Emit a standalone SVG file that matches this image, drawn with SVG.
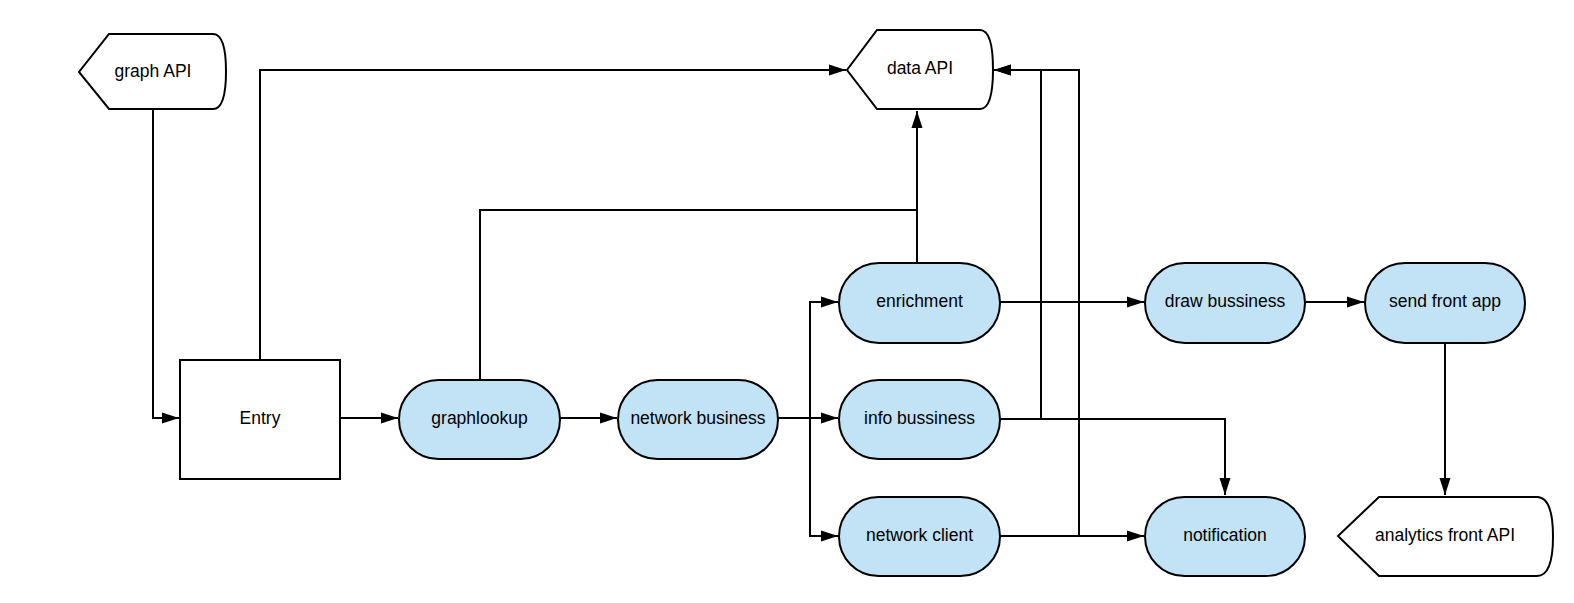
<svg xmlns="http://www.w3.org/2000/svg" width="1574" height="603" viewBox="0 0 1574 603">
<defs>
<marker id="arr" markerWidth="18" markerHeight="12" refX="17" refY="6" orient="auto" markerUnits="userSpaceOnUse">
<path d="M0,0.5 L17,6 L0,11.5 z" fill="#000"/>
</marker>
</defs>
<style>
.n{fill:#c2e3f5;stroke:#000;stroke-width:2}
.w{fill:#fff;stroke:#000;stroke-width:2}
.t{font-family:"Liberation Sans",Arial,sans-serif;font-size:17.5px;fill:#000;text-anchor:middle;dominant-baseline:central}
.c{fill:none;stroke:#000;stroke-width:2}
.a{marker-end:url(#arr)}
</style>
<rect width="1574" height="603" fill="#fff"/>
<g id="connectors">
<path class="c a" d="M153,109 V418 H179"/>
<path class="c a" d="M260,360 V70 H846"/>
<path class="c a" d="M340,418 H398"/>
<path class="c" d="M480,380 V210 H917"/>
<path class="c a" d="M917,263 V111"/>
<path class="c a" d="M560,418 H617"/>
<path class="c a" d="M778,418 H838"/>
<path class="c a" d="M810,418 V302 H838"/>
<path class="c a" d="M810,418 V536 H838"/>
<path class="c a" d="M1000,302 H1144"/>
<path class="c a" d="M1305,302 H1364"/>
<path class="c a" d="M1445,343 V495"/>
<path class="c a" d="M1000,419 H1225 V495"/>
<path class="c a" d="M1000,536 H1144"/>
<path class="c a" d="M1000,419 H1041 V70 H994"/>
<path class="c a" d="M1000,536 H1079 V70 H994"/>
</g>
<g id="graphAPI">
<path class="w" d="M109,34 H213 Q226,34 226,71.5 Q226,109 213,109 H109 L79,72 Z"/>
<text class="t" x="153" y="71">graph API</text>
</g>
<g id="dataAPI">
<path class="w" d="M877,30 H980 Q993,30 993,69.5 Q993,109 980,109 H877 L847,70 Z"/>
<text class="t" x="920" y="68">data API</text>
</g>
<g id="entry">
<rect class="w" x="180" y="360" width="160" height="119"/>
<text class="t" x="260" y="418">Entry</text>
</g>
<g id="graphlookup">
<rect class="n" x="399" y="380" width="161" height="79" rx="39.5"/>
<text class="t" x="479.5" y="418">graphlookup</text>
</g>
<g id="networkBusiness">
<rect class="n" x="618" y="380" width="160" height="79" rx="39.5"/>
<text class="t" x="698" y="418">network business</text>
</g>
<g id="enrichment">
<rect class="n" x="839" y="263" width="161" height="80" rx="40"/>
<text class="t" x="919.5" y="301">enrichment</text>
</g>
<g id="infoBussiness">
<rect class="n" x="839" y="380" width="161" height="79" rx="39.5"/>
<text class="t" x="919.5" y="418">info bussiness</text>
</g>
<g id="networkClient">
<rect class="n" x="839" y="497" width="161" height="79" rx="39.5"/>
<text class="t" x="919.5" y="535">network client</text>
</g>
<g id="drawBussiness">
<rect class="n" x="1145" y="263" width="160" height="80" rx="40"/>
<text class="t" x="1225" y="301">draw bussiness</text>
</g>
<g id="sendFrontApp">
<rect class="n" x="1365" y="263" width="160" height="80" rx="40"/>
<text class="t" x="1445" y="301">send front app</text>
</g>
<g id="notification">
<rect class="n" x="1145" y="497" width="160" height="79" rx="39.5"/>
<text class="t" x="1225" y="535">notification</text>
</g>
<g id="analyticsFrontAPI">
<path class="w" d="M1379,497 H1537 Q1553,497 1553,536.5 Q1553,576 1537,576 H1379 L1338,536 Z"/>
<text class="t" x="1445" y="535">analytics front API</text>
</g>
</svg>
